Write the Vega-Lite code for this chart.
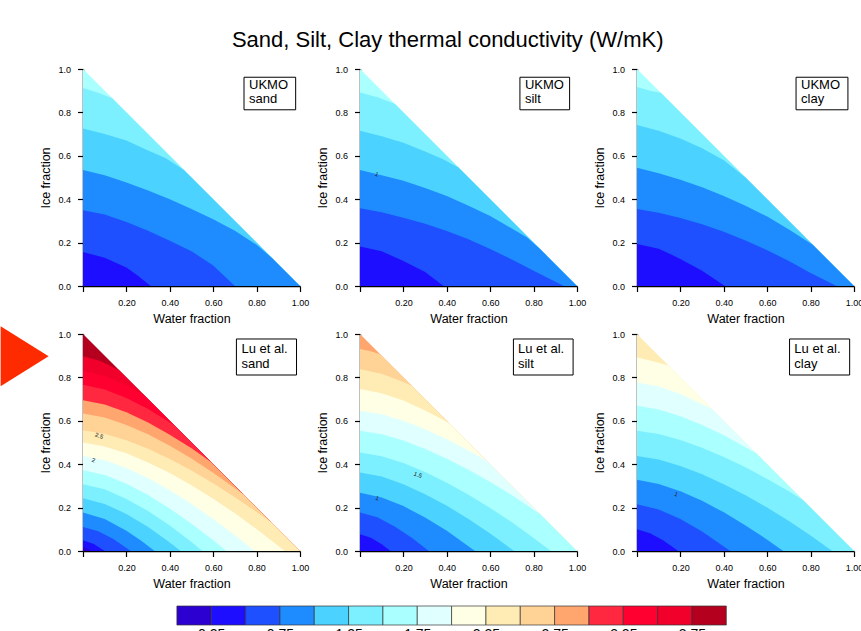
{
"$schema": "https://vega.github.io/schema/vega-lite/v6.json",
"padding": {"top": 29, "left": 0, "right": 0, "bottom": 0},
"title": {"text": "Sand, Silt, Clay thermal conductivity (W/mK)", "fontSize": 22, "font": "Liberation Sans", "fontWeight": "normal", "color": "black", "anchor": "middle", "offset": 12, "dx": 16},
"config": {
  "view": {"stroke": null},
  "font": "Liberation Sans",
  "header": {"labels": false, "title": null, "labelPadding": 0, "titlePadding": 0, "labelFontSize": 1, "labelExpr": "''"},
  "headerFacet": {"labels": false, "title": null, "labelPadding": 0, "titlePadding": 0, "labelFontSize": 1, "labelExpr": "''"},
  "axis": {"grid": false, "domainColor": "black", "domainWidth": 1.5, "tickColor": "black", "tickWidth": 1.2, "labelColor": "black", "labelFont": "Liberation Sans", "labelFontSize": 9, "titleFont": "Liberation Sans", "titleFontSize": 12.5, "titleFontWeight": "normal", "titleColor": "black", "labelOverlap": false, "labelFlush": false, "labelBound": false}
},
"datasets": {
"cb": [
{"c":1,"v":0,"v2":0.25},{"c":2,"v":0.25,"v2":0.5},{"c":3,"v":0.5,"v2":0.75},{"c":4,"v":0.75,"v2":1},
{"c":5,"v":1,"v2":1.25},{"c":6,"v":1.25,"v2":1.5},{"c":7,"v":1.5,"v2":1.75},{"c":8,"v":1.75,"v2":2},
{"c":9,"v":2,"v2":2.25},{"c":10,"v":2.25,"v2":2.5},{"c":11,"v":2.5,"v2":2.75},{"c":12,"v":2.75,"v2":3},
{"c":13,"v":3,"v2":3.25},{"c":14,"v":3.25,"v2":3.5},{"c":15,"v":3.5,"v2":3.75},{"c":16,"v":3.75,"v2":4}
],
"d": [
{"p":1,"c":7,"x":0,"y":1},{"p":1,"c":7,"x":1,"y":0},
{"p":1,"c":6,"x":0,"y":0.912},{"p":1,"c":6,"x":0.07,"y":0.89},{"p":1,"c":6,"x":0.135,"y":0.865},{"p":1,"c":6,"x":1,"y":0},
{"p":1,"c":5,"x":0,"y":0.726},{"p":1,"c":5,"x":0.1,"y":0.7},{"p":1,"c":5,"x":0.2,"y":0.67},{"p":1,"c":5,"x":0.3,"y":0.625},{"p":1,"c":5,"x":0.38,"y":0.59},{"p":1,"c":5,"x":0.465,"y":0.535},{"p":1,"c":5,"x":1,"y":0},
{"p":1,"c":4,"x":0,"y":0.535},{"p":1,"c":4,"x":0.1,"y":0.51},{"p":1,"c":4,"x":0.2,"y":0.477},{"p":1,"c":4,"x":0.3,"y":0.44},{"p":1,"c":4,"x":0.4,"y":0.4},{"p":1,"c":4,"x":0.5,"y":0.355},{"p":1,"c":4,"x":0.6,"y":0.308},{"p":1,"c":4,"x":0.7,"y":0.255},{"p":1,"c":4,"x":0.8,"y":0.19},{"p":1,"c":4,"x":0.872,"y":0.128},{"p":1,"c":4,"x":1,"y":0},
{"p":1,"c":3,"x":0,"y":0.349},{"p":1,"c":3,"x":0.1,"y":0.33},{"p":1,"c":3,"x":0.2,"y":0.295},{"p":1,"c":3,"x":0.3,"y":0.255},{"p":1,"c":3,"x":0.4,"y":0.208},{"p":1,"c":3,"x":0.5,"y":0.16},{"p":1,"c":3,"x":0.6,"y":0.095},{"p":1,"c":3,"x":0.7,"y":0},
{"p":1,"c":2,"x":0,"y":0.157},{"p":1,"c":2,"x":0.1,"y":0.13},{"p":1,"c":2,"x":0.2,"y":0.085},{"p":1,"c":2,"x":0.25,"y":0.05},{"p":1,"c":2,"x":0.312,"y":0},

{"p":2,"c":7,"x":0,"y":1},{"p":2,"c":7,"x":1,"y":0},
{"p":2,"c":6,"x":0,"y":0.892},{"p":2,"c":6,"x":0.08,"y":0.87},{"p":2,"c":6,"x":0.16,"y":0.84},{"p":2,"c":6,"x":1,"y":0},
{"p":2,"c":5,"x":0,"y":0.715},{"p":2,"c":5,"x":0.1,"y":0.69},{"p":2,"c":5,"x":0.2,"y":0.66},{"p":2,"c":5,"x":0.3,"y":0.62},{"p":2,"c":5,"x":0.38,"y":0.585},{"p":2,"c":5,"x":0.454,"y":0.546},{"p":2,"c":5,"x":1,"y":0},
{"p":2,"c":4,"x":0,"y":0.535},{"p":2,"c":4,"x":0.1,"y":0.51},{"p":2,"c":4,"x":0.2,"y":0.485},{"p":2,"c":4,"x":0.3,"y":0.452},{"p":2,"c":4,"x":0.4,"y":0.415},{"p":2,"c":4,"x":0.5,"y":0.37},{"p":2,"c":4,"x":0.6,"y":0.323},{"p":2,"c":4,"x":0.7,"y":0.265},{"p":2,"c":4,"x":0.77,"y":0.223},{"p":2,"c":4,"x":0.83,"y":0.17},{"p":2,"c":4,"x":1,"y":0},
{"p":2,"c":3,"x":0,"y":0.358},{"p":2,"c":3,"x":0.1,"y":0.34},{"p":2,"c":3,"x":0.2,"y":0.315},{"p":2,"c":3,"x":0.3,"y":0.287},{"p":2,"c":3,"x":0.4,"y":0.254},{"p":2,"c":3,"x":0.5,"y":0.215},{"p":2,"c":3,"x":0.6,"y":0.17},{"p":2,"c":3,"x":0.7,"y":0.122},{"p":2,"c":3,"x":0.8,"y":0.07},{"p":2,"c":3,"x":0.88,"y":0.03},{"p":2,"c":3,"x":0.94,"y":0},
{"p":2,"c":2,"x":0,"y":0.182},{"p":2,"c":2,"x":0.1,"y":0.16},{"p":2,"c":2,"x":0.2,"y":0.115},{"p":2,"c":2,"x":0.3,"y":0.065},{"p":2,"c":2,"x":0.385,"y":0},

{"p":3,"c":7,"x":0,"y":1},{"p":3,"c":7,"x":1,"y":0},
{"p":3,"c":6,"x":0,"y":0.917},{"p":3,"c":6,"x":0.06,"y":0.9},{"p":3,"c":6,"x":0.11,"y":0.89},{"p":3,"c":6,"x":1,"y":0},
{"p":3,"c":5,"x":0,"y":0.742},{"p":3,"c":5,"x":0.1,"y":0.715},{"p":3,"c":5,"x":0.2,"y":0.68},{"p":3,"c":5,"x":0.3,"y":0.635},{"p":3,"c":5,"x":0.4,"y":0.58},{"p":3,"c":5,"x":0.5,"y":0.5},{"p":3,"c":5,"x":1,"y":0},
{"p":3,"c":4,"x":0,"y":0.545},{"p":3,"c":4,"x":0.1,"y":0.52},{"p":3,"c":4,"x":0.2,"y":0.49},{"p":3,"c":4,"x":0.3,"y":0.455},{"p":3,"c":4,"x":0.4,"y":0.415},{"p":3,"c":4,"x":0.5,"y":0.37},{"p":3,"c":4,"x":0.6,"y":0.32},{"p":3,"c":4,"x":0.7,"y":0.26},{"p":3,"c":4,"x":0.81,"y":0.19},{"p":3,"c":4,"x":1,"y":0},
{"p":3,"c":3,"x":0,"y":0.355},{"p":3,"c":3,"x":0.1,"y":0.337},{"p":3,"c":3,"x":0.2,"y":0.313},{"p":3,"c":3,"x":0.3,"y":0.285},{"p":3,"c":3,"x":0.4,"y":0.25},{"p":3,"c":3,"x":0.5,"y":0.21},{"p":3,"c":3,"x":0.6,"y":0.165},{"p":3,"c":3,"x":0.7,"y":0.115},{"p":3,"c":3,"x":0.8,"y":0.06},{"p":3,"c":3,"x":0.92,"y":0},
{"p":3,"c":2,"x":0,"y":0.194},{"p":3,"c":2,"x":0.1,"y":0.172},{"p":3,"c":2,"x":0.2,"y":0.125},{"p":3,"c":2,"x":0.3,"y":0.07},{"p":3,"c":2,"x":0.405,"y":0},

{"p":4,"c":16,"x":0,"y":1},{"p":4,"c":16,"x":1,"y":0},
{"p":4,"c":15,"x":0,"y":0.897},{"p":4,"c":15,"x":0.08,"y":0.876},{"p":4,"c":15,"x":0.166,"y":0.834},{"p":4,"c":15,"x":1,"y":0},
{"p":4,"c":14,"x":0,"y":0.831},{"p":4,"c":14,"x":0.1,"y":0.807},{"p":4,"c":14,"x":0.2,"y":0.764},{"p":4,"c":14,"x":0.28,"y":0.72},{"p":4,"c":14,"x":1,"y":0},
{"p":4,"c":13,"x":0,"y":0.766},{"p":4,"c":13,"x":0.1,"y":0.744},{"p":4,"c":13,"x":0.2,"y":0.705},{"p":4,"c":13,"x":0.3,"y":0.654},{"p":4,"c":13,"x":0.42,"y":0.58},{"p":4,"c":13,"x":1,"y":0},
{"p":4,"c":12,"x":0,"y":0.695},{"p":4,"c":12,"x":0.1,"y":0.675},{"p":4,"c":12,"x":0.2,"y":0.639},{"p":4,"c":12,"x":0.3,"y":0.592},{"p":4,"c":12,"x":0.4,"y":0.536},{"p":4,"c":12,"x":0.5,"y":0.473},{"p":4,"c":12,"x":0.59,"y":0.41},{"p":4,"c":12,"x":1,"y":0},
{"p":4,"c":11,"x":0,"y":0.634},{"p":4,"c":11,"x":0.1,"y":0.615},{"p":4,"c":11,"x":0.2,"y":0.581},{"p":4,"c":11,"x":0.3,"y":0.538},{"p":4,"c":11,"x":0.4,"y":0.485},{"p":4,"c":11,"x":0.5,"y":0.426},{"p":4,"c":11,"x":0.6,"y":0.361},{"p":4,"c":11,"x":0.7,"y":0.289},{"p":4,"c":11,"x":0.74,"y":0.26},{"p":4,"c":11,"x":1,"y":0},
{"p":4,"c":10,"x":0,"y":0.557},{"p":4,"c":10,"x":0.1,"y":0.54},{"p":4,"c":10,"x":0.2,"y":0.51},{"p":4,"c":10,"x":0.3,"y":0.471},{"p":4,"c":10,"x":0.4,"y":0.424},{"p":4,"c":10,"x":0.5,"y":0.371},{"p":4,"c":10,"x":0.6,"y":0.312},{"p":4,"c":10,"x":0.7,"y":0.248},{"p":4,"c":10,"x":0.8,"y":0.18},{"p":4,"c":10,"x":0.87,"y":0.13},{"p":4,"c":10,"x":1,"y":0},
{"p":4,"c":9,"x":0,"y":0.5},{"p":4,"c":9,"x":0.1,"y":0.482},{"p":4,"c":9,"x":0.2,"y":0.45},{"p":4,"c":9,"x":0.3,"y":0.408},{"p":4,"c":9,"x":0.4,"y":0.359},{"p":4,"c":9,"x":0.5,"y":0.303},{"p":4,"c":9,"x":0.6,"y":0.241},{"p":4,"c":9,"x":0.7,"y":0.174},{"p":4,"c":9,"x":0.8,"y":0.101},{"p":4,"c":9,"x":0.93,"y":0},
{"p":4,"c":8,"x":0,"y":0.438},{"p":4,"c":8,"x":0.1,"y":0.418},{"p":4,"c":8,"x":0.2,"y":0.382},{"p":4,"c":8,"x":0.3,"y":0.335},{"p":4,"c":8,"x":0.4,"y":0.28},{"p":4,"c":8,"x":0.5,"y":0.217},{"p":4,"c":8,"x":0.6,"y":0.148},{"p":4,"c":8,"x":0.7,"y":0.073},{"p":4,"c":8,"x":0.79,"y":0},
{"p":4,"c":7,"x":0,"y":0.372},{"p":4,"c":7,"x":0.1,"y":0.35},{"p":4,"c":7,"x":0.2,"y":0.31},{"p":4,"c":7,"x":0.3,"y":0.258},{"p":4,"c":7,"x":0.4,"y":0.196},{"p":4,"c":7,"x":0.5,"y":0.126},{"p":4,"c":7,"x":0.6,"y":0.049},{"p":4,"c":7,"x":0.66,"y":0},
{"p":4,"c":6,"x":0,"y":0.308},{"p":4,"c":6,"x":0.1,"y":0.284},{"p":4,"c":6,"x":0.2,"y":0.24},{"p":4,"c":6,"x":0.3,"y":0.184},{"p":4,"c":6,"x":0.4,"y":0.117},{"p":4,"c":6,"x":0.5,"y":0.041},{"p":4,"c":6,"x":0.55,"y":0},
{"p":4,"c":5,"x":0,"y":0.243},{"p":4,"c":5,"x":0.1,"y":0.217},{"p":4,"c":5,"x":0.2,"y":0.171},{"p":4,"c":5,"x":0.3,"y":0.111},{"p":4,"c":5,"x":0.4,"y":0.039},{"p":4,"c":5,"x":0.45,"y":0},
{"p":4,"c":4,"x":0,"y":0.177},{"p":4,"c":4,"x":0.1,"y":0.147},{"p":4,"c":4,"x":0.2,"y":0.093},{"p":4,"c":4,"x":0.27,"y":0.046},{"p":4,"c":4,"x":0.33,"y":0},
{"p":4,"c":3,"x":0,"y":0.111},{"p":4,"c":3,"x":0.07,"y":0.091},{"p":4,"c":3,"x":0.14,"y":0.055},{"p":4,"c":3,"x":0.22,"y":0},
{"p":4,"c":2,"x":0,"y":0.049},{"p":4,"c":2,"x":0.05,"y":0.032},{"p":4,"c":2,"x":0.1,"y":0},
{"p":4,"c":1,"x":0,"y":0.02},{"p":4,"c":1,"x":0.04,"y":0},

{"p":5,"c":12,"x":0,"y":1},{"p":5,"c":12,"x":1,"y":0},
{"p":5,"c":11,"x":0,"y":0.931},{"p":5,"c":11,"x":0.05,"y":0.92},{"p":5,"c":11,"x":0.095,"y":0.905},{"p":5,"c":11,"x":1,"y":0},
{"p":5,"c":10,"x":0,"y":0.838},{"p":5,"c":10,"x":0.1,"y":0.817},{"p":5,"c":10,"x":0.2,"y":0.779},{"p":5,"c":10,"x":0.24,"y":0.76},{"p":5,"c":10,"x":1,"y":0},
{"p":5,"c":9,"x":0,"y":0.746},{"p":5,"c":9,"x":0.1,"y":0.727},{"p":5,"c":9,"x":0.2,"y":0.693},{"p":5,"c":9,"x":0.3,"y":0.648},{"p":5,"c":9,"x":0.41,"y":0.59},{"p":5,"c":9,"x":1,"y":0},
{"p":5,"c":8,"x":0,"y":0.646},{"p":5,"c":8,"x":0.1,"y":0.63},{"p":5,"c":8,"x":0.2,"y":0.6},{"p":5,"c":8,"x":0.3,"y":0.561},{"p":5,"c":8,"x":0.4,"y":0.515},{"p":5,"c":8,"x":0.5,"y":0.463},{"p":5,"c":8,"x":0.585,"y":0.415},{"p":5,"c":8,"x":1,"y":0},
{"p":5,"c":7,"x":0,"y":0.554},{"p":5,"c":7,"x":0.1,"y":0.538},{"p":5,"c":7,"x":0.2,"y":0.509},{"p":5,"c":7,"x":0.3,"y":0.47},{"p":5,"c":7,"x":0.4,"y":0.425},{"p":5,"c":7,"x":0.5,"y":0.374},{"p":5,"c":7,"x":0.6,"y":0.318},{"p":5,"c":7,"x":0.7,"y":0.257},{"p":5,"c":7,"x":0.83,"y":0.17},{"p":5,"c":7,"x":1,"y":0},
{"p":5,"c":6,"x":0,"y":0.454},{"p":5,"c":6,"x":0.1,"y":0.437},{"p":5,"c":6,"x":0.2,"y":0.405},{"p":5,"c":6,"x":0.3,"y":0.364},{"p":5,"c":6,"x":0.4,"y":0.315},{"p":5,"c":6,"x":0.5,"y":0.259},{"p":5,"c":6,"x":0.6,"y":0.198},{"p":5,"c":6,"x":0.7,"y":0.132},{"p":5,"c":6,"x":0.8,"y":0.06},{"p":5,"c":6,"x":0.88,"y":0},
{"p":5,"c":5,"x":0,"y":0.362},{"p":5,"c":5,"x":0.1,"y":0.343},{"p":5,"c":5,"x":0.2,"y":0.308},{"p":5,"c":5,"x":0.3,"y":0.262},{"p":5,"c":5,"x":0.4,"y":0.209},{"p":5,"c":5,"x":0.5,"y":0.148},{"p":5,"c":5,"x":0.6,"y":0.081},{"p":5,"c":5,"x":0.71,"y":0},
{"p":5,"c":4,"x":0,"y":0.269},{"p":5,"c":4,"x":0.1,"y":0.247},{"p":5,"c":4,"x":0.2,"y":0.207},{"p":5,"c":4,"x":0.3,"y":0.154},{"p":5,"c":4,"x":0.4,"y":0.093},{"p":5,"c":4,"x":0.53,"y":0},
{"p":5,"c":3,"x":0,"y":0.177},{"p":5,"c":3,"x":0.08,"y":0.155},{"p":5,"c":3,"x":0.16,"y":0.113},{"p":5,"c":3,"x":0.24,"y":0.06},{"p":5,"c":3,"x":0.317,"y":0},
{"p":5,"c":2,"x":0,"y":0.077},{"p":5,"c":2,"x":0.05,"y":0.061},{"p":5,"c":2,"x":0.1,"y":0.031},{"p":5,"c":2,"x":0.14,"y":0},

{"p":6,"c":10,"x":0,"y":1},{"p":6,"c":10,"x":1,"y":0},
{"p":6,"c":9,"x":0,"y":0.892},{"p":6,"c":9,"x":0.07,"y":0.876},{"p":6,"c":9,"x":0.145,"y":0.855},{"p":6,"c":9,"x":1,"y":0},
{"p":6,"c":8,"x":0,"y":0.777},{"p":6,"c":8,"x":0.1,"y":0.758},{"p":6,"c":8,"x":0.2,"y":0.723},{"p":6,"c":8,"x":0.345,"y":0.655},{"p":6,"c":8,"x":1,"y":0},
{"p":6,"c":7,"x":0,"y":0.669},{"p":6,"c":7,"x":0.1,"y":0.652},{"p":6,"c":7,"x":0.2,"y":0.621},{"p":6,"c":7,"x":0.3,"y":0.581},{"p":6,"c":7,"x":0.4,"y":0.533},{"p":6,"c":7,"x":0.55,"y":0.45},{"p":6,"c":7,"x":1,"y":0},
{"p":6,"c":6,"x":0,"y":0.554},{"p":6,"c":6,"x":0.1,"y":0.539},{"p":6,"c":6,"x":0.2,"y":0.511},{"p":6,"c":6,"x":0.3,"y":0.476},{"p":6,"c":6,"x":0.4,"y":0.433},{"p":6,"c":6,"x":0.5,"y":0.386},{"p":6,"c":6,"x":0.6,"y":0.332},{"p":6,"c":6,"x":0.7,"y":0.275},{"p":6,"c":6,"x":0.765,"y":0.235},{"p":6,"c":6,"x":1,"y":0},
{"p":6,"c":5,"x":0,"y":0.438},{"p":6,"c":5,"x":0.1,"y":0.422},{"p":6,"c":5,"x":0.2,"y":0.392},{"p":6,"c":5,"x":0.3,"y":0.354},{"p":6,"c":5,"x":0.4,"y":0.308},{"p":6,"c":5,"x":0.5,"y":0.257},{"p":6,"c":5,"x":0.6,"y":0.2},{"p":6,"c":5,"x":0.7,"y":0.138},{"p":6,"c":5,"x":0.8,"y":0.071},{"p":6,"c":5,"x":0.9,"y":0},
{"p":6,"c":4,"x":0,"y":0.328},{"p":6,"c":4,"x":0.1,"y":0.309},{"p":6,"c":4,"x":0.2,"y":0.275},{"p":6,"c":4,"x":0.3,"y":0.231},{"p":6,"c":4,"x":0.4,"y":0.178},{"p":6,"c":4,"x":0.5,"y":0.118},{"p":6,"c":4,"x":0.6,"y":0.052},{"p":6,"c":4,"x":0.674,"y":0},
{"p":6,"c":3,"x":0,"y":0.215},{"p":6,"c":3,"x":0.1,"y":0.191},{"p":6,"c":3,"x":0.2,"y":0.147},{"p":6,"c":3,"x":0.3,"y":0.09},{"p":6,"c":3,"x":0.43,"y":0},
{"p":6,"c":2,"x":0,"y":0.1},{"p":6,"c":2,"x":0.06,"y":0.082},{"p":6,"c":2,"x":0.12,"y":0.05},{"p":6,"c":2,"x":0.19,"y":0},

{"p":1,"k":"b","x":0.742,"x2":0.98,"y":0.962,"y2":0.812},
{"p":2,"k":"b","x":0.737,"x2":0.966,"y":0.962,"y2":0.812},
{"p":3,"k":"b","x":0.733,"x2":0.972,"y":0.962,"y2":0.812},
{"p":4,"k":"b","x":0.707,"x2":0.984,"y":0.977,"y2":0.811},
{"p":5,"k":"b","x":0.707,"x2":0.982,"y":0.977,"y2":0.811},
{"p":6,"k":"b","x":0.703,"x2":0.98,"y":0.977,"y2":0.811},
{"p":1,"k":"t","x":0.765,"y":0.908,"s":"UKMO"},{"p":1,"k":"t","x":0.765,"y":0.842,"s":"\u00a0sand"},
{"p":2,"k":"t","x":0.76,"y":0.908,"s":"UKMO"},{"p":2,"k":"t","x":0.76,"y":0.842,"s":"\u00a0silt"},
{"p":3,"k":"t","x":0.756,"y":0.908,"s":"UKMO"},{"p":3,"k":"t","x":0.756,"y":0.842,"s":"\u00a0clay"},
{"p":4,"k":"t","x":0.73,"y":0.911,"s":"Lu et al."},{"p":4,"k":"t","x":0.73,"y":0.842,"s":"\u00a0sand"},
{"p":5,"k":"t","x":0.728,"y":0.911,"s":"Lu et al."},{"p":5,"k":"t","x":0.728,"y":0.842,"s":"\u00a0silt"},
{"p":6,"k":"t","x":0.725,"y":0.911,"s":"Lu et al."},{"p":6,"k":"t","x":0.725,"y":0.842,"s":"\u00a0clay"},
{"p":2,"k":"l","x":0.077,"y":0.515,"s":"1"},
{"p":4,"k":"l","x":0.074,"y":0.531,"s":"2.5"},{"p":4,"k":"l","x":0.048,"y":0.418,"s":"2"},
{"p":5,"k":"l","x":0.267,"y":0.351,"s":"1.5"},{"p":5,"k":"l","x":0.08,"y":0.243,"s":"1"},
{"p":6,"k":"l","x":0.181,"y":0.262,"s":"1"},
{"p":4,"k":"m","x":-0.269,"y":0.898}
]
},
"vconcat": [
{
  "data": {"name": "d"},
  "facet": {"field": "p", "type": "ordinal", "title": null, "header": {"labels": false, "title": null, "labelPadding": 0, "titlePadding": 0, "labelFontSize": 1, "labelExpr": "''"}},
  "columns": 3,
  "spacing": {"row": 48, "column": 60},
  "bounds": "flush",
  "resolve": {"scale": {"x": "independent", "y": "independent"}},
  "spec": {
    "width": 217, "height": 217,
    "layer": [
      {
        "transform": [{"filter": "datum.c != null"}],
        "mark": {"type": "area"},
        "encoding": {
          "x": {"field": "x", "type": "quantitative", "scale": {"domain": [0, 1]},
                "axis": {"title": "Water fraction", "values": [0,0.05,0.1,0.15,0.2,0.25,0.3,0.35,0.4,0.45,0.5,0.55,0.6,0.65,0.7,0.75,0.8,0.85,0.9,0.95,1],
                         "labelExpr": "(datum.value > 0.01 && abs(datum.value*5 - round(datum.value*5)) < 0.001) ? format(datum.value, '.2f') : ''",
                         "tickSize": {"condition": {"test": "abs(datum.value*5 - round(datum.value*5)) < 0.001", "value": 5.5}, "value": 3},
                         "labelPadding": 7, "titlePadding": 5}},
          "y": {"field": "y", "type": "quantitative", "scale": {"domain": [0, 1]}, "stack": null,
                "axis": {"title": "Ice fraction", "values": [0,0.05,0.1,0.15,0.2,0.25,0.3,0.35,0.4,0.45,0.5,0.55,0.6,0.65,0.7,0.75,0.8,0.85,0.9,0.95,1],
                         "labelExpr": "abs(datum.value*5 - round(datum.value*5)) < 0.001 ? format(datum.value, '.1f') : ''",
                         "tickSize": {"condition": {"test": "abs(datum.value*5 - round(datum.value*5)) < 0.001", "value": 5.5}, "value": 3},
                         "labelPadding": 7, "titlePadding": 5}},
          "color": {"field": "c", "type": "ordinal", "legend": null,
                    "scale": {"domain": [1,2,3,4,5,6,7,8,9,10,11,12,13,14,15,16],
                              "range": ["#2D00D2","#1E0EFF","#1E50FF","#1E8CFF","#4BD2FF","#7DF0FF","#AAFFFF","#E0FFFF","#FFFFE6","#FFEBB4","#FFD296","#FFA56E","#FF2840","#FF0030","#F0002A","#B4001E"]}}
        }
      },
      {
        "transform": [{"filter": "datum.k == 'b'"}],
        "mark": {"type": "rect", "fill": "white", "stroke": "black", "strokeWidth": 1},
        "encoding": {
          "x": {"field": "x", "type": "quantitative", "scale": {"domain": [0, 1]}},
          "x2": {"field": "x2"},
          "y": {"field": "y", "type": "quantitative", "scale": {"domain": [0, 1]}},
          "y2": {"field": "y2"}
        }
      },
      {
        "transform": [{"filter": "datum.k == 't'"}],
        "mark": {"type": "text", "align": "left", "baseline": "alphabetic", "fontSize": 13, "font": "Liberation Sans", "color": "black"},
        "encoding": {
          "x": {"field": "x", "type": "quantitative", "scale": {"domain": [0, 1]}},
          "y": {"field": "y", "type": "quantitative", "scale": {"domain": [0, 1]}},
          "text": {"field": "s"}
        }
      },
      {
        "transform": [{"filter": "datum.k == 'l'"}],
        "mark": {"type": "text", "align": "center", "baseline": "middle", "fontSize": 6, "angle": 20, "font": "Liberation Sans", "color": "#222"},
        "encoding": {
          "x": {"field": "x", "type": "quantitative", "scale": {"domain": [0, 1]}},
          "y": {"field": "y", "type": "quantitative", "scale": {"domain": [0, 1]}},
          "text": {"field": "s"}
        }
      },
      {
        "transform": [{"filter": "datum.k == 'm'"}],
        "mark": {"type": "point", "shape": "M -0.8 -1 L 0.8 0 L -0.8 1 Z", "filled": true, "color": "#FF2B00", "opacity": 1, "size": 3600, "clip": false},
        "encoding": {
          "x": {"field": "x", "type": "quantitative", "scale": {"domain": [0, 1]}},
          "y": {"field": "y", "type": "quantitative", "scale": {"domain": [0, 1]}}
        }
      }
    ]
  }
},
{
  "data": {"name": "cb"},
  "width": 700, "height": 19,
  "mark": {"type": "rect", "stroke": "#333", "strokeWidth": 0.7},
  "encoding": {
    "x": {"field": "v", "type": "quantitative", "scale": {"domain": [-0.6837, 4.4128], "nice": false, "zero": false},
          "axis": {"values": [0.25,0.75,1.25,1.75,2.25,2.75,3.25,3.75], "format": ".2f", "ticks": false, "tickSize": 0, "domain": false, "labelFontSize": 14, "labelPadding": 2, "title": null}},
    "x2": {"field": "v2"},
    "color": {"field": "c", "type": "ordinal", "legend": null,
              "scale": {"domain": [1,2,3,4,5,6,7,8,9,10,11,12,13,14,15,16],
                        "range": ["#2D00D2","#1E0EFF","#1E50FF","#1E8CFF","#4BD2FF","#7DF0FF","#AAFFFF","#E0FFFF","#FFFFE6","#FFEBB4","#FFD296","#FFA56E","#FF2840","#FF0030","#F0002A","#B4001E"]}}
  }
}
],
"spacing": 15
}
